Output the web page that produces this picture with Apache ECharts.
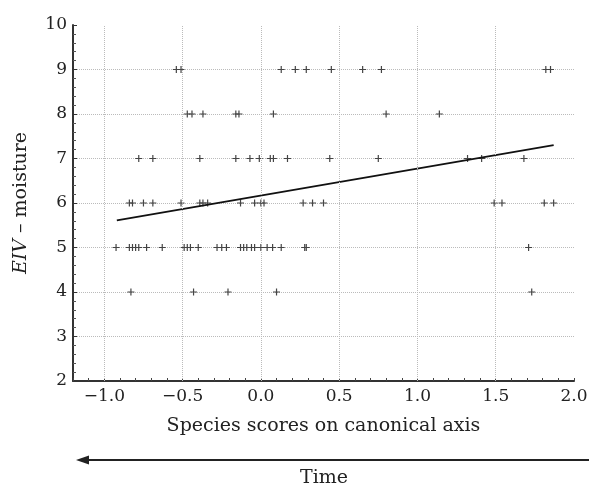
<!DOCTYPE html>
<html><head><meta charset="utf-8">
<script src="https://cdn.jsdelivr.net/npm/echarts@6/dist/echarts.min.js"></script>
<style>html,body{margin:0;padding:0;background:#fff}#c{width:592px;height:486px}</style>
</head><body><div id="c"></div>
<script>
// Species scores on canonical axis, grouped by EIV moisture value
const eivLevels = [9, 8, 7, 6, 5, 4];
const scores9 = [-0.54,-0.51,0.13,0.22,0.29,0.45,0.65,0.77,1.82,1.85];
const scores8 = [-0.47,-0.44,-0.37,-0.16,-0.14,0.08,0.80,1.14];
const scores7 = [-0.78,-0.69,-0.39,-0.16,-0.07,-0.01,0.06,0.08,0.17,0.44,0.75,1.32,1.41,1.68];
const scores6 = [-0.84,-0.82,-0.75,-0.69,-0.51,-0.39,-0.37,-0.34,-0.13,-0.04,0.00,0.02,0.27,0.33,0.40,1.49,1.54,1.81,1.87];
const scores5 = [-0.925,-0.84,-0.82,-0.80,-0.78,-0.73,-0.63,-0.49,-0.47,-0.45,-0.40,-0.28,-0.25,-0.22,-0.13,-0.11,-0.09,-0.06,-0.04,0.00,0.04,0.075,0.13,0.28,0.29,1.71];
const scores4 = [-0.83,-0.43,-0.21,0.10,1.73];
// fitted regression line endpoints
const fitX = [-0.92, 1.87];
const fitY = [5.61, 7.30];
// axis ticks
const xTicks = [-1.0, -0.5, 0.0, 0.5, 1.0, 1.5, 2.0];
const yTicks = [2, 3, 4, 5, 6, 7, 8, 9, 10];
const xGrid = [-1.0, -0.5, 0.0, 0.5, 1.0, 1.5];

const rows = [scores9, scores8, scores7, scores6, scores5, scores4];
const points = [];
rows.forEach((r, i) => r.forEach(x => points.push([x, eivLevels[i]])));
const fitData = fitX.map((x, i) => [x, fitY[i]]);

const plus = 'path://M-0.17,-1H0.17V-0.17H1V0.17H0.17V1H-0.17V0.17H-1V-0.17H-0.17Z';
const font = 'DejaVu Serif';
const isMajorX = v => xTicks.find(k => Math.abs(k - v) < 1e-6);

const chart = echarts.init(document.getElementById('c'), null, {renderer: 'canvas'});
chart.setOption({
  animation: false,
  backgroundColor: '#fff',
  grid: {left: 73, right: 18, top: 25, bottom: 105, containLabel: false},
  xAxis: {
    type: 'value', min: -1.2, max: 2.0, interval: 0.1,
    name: 'Species scores on canonical axis', nameLocation: 'middle', nameGap: 36,
    nameTextStyle: {fontFamily: font, fontSize: 19, color: '#222'},
    axisLine: {show: true, onZero: false, lineStyle: {color: '#333', width: 2}},
    axisTick: {show: true, inside: true, length: 3, lineStyle: {color: '#444'}},
    minorTick: {show: false},
    axisLabel: {fontFamily: font, fontSize: 17, color: '#222', margin: 7, interval: 0,
      showMinLabel: true, showMaxLabel: true, hideOverlap: false,
      formatter: v => { const t = isMajorX(v); return t === undefined ? '' : (t < -1e-9 ? '\u2212' + Math.abs(t).toFixed(1) : Math.abs(t).toFixed(1)); }},
    splitLine: {show: false}
  },
  yAxis: {
    type: 'value', min: 2, max: 10, interval: 1,
    name: '{i|EIV} \u2013 moisture', nameLocation: 'middle', nameGap: 42, nameRotate: 90,
    nameTextStyle: {fontFamily: font, fontSize: 19, color: '#222',
      rich: {i: {fontFamily: font, fontSize: 19, fontStyle: 'italic', color: '#222'}}},
    axisLine: {show: true, onZero: false, lineStyle: {color: '#333', width: 2}},
    axisTick: {show: true, inside: true, length: 4, lineStyle: {color: '#333'}},
    minorTick: {show: true, splitNumber: 5, length: 3, lineStyle: {color: '#555'}},
    axisLabel: {fontFamily: font, fontSize: 17, color: '#222', margin: 6,
      formatter: v => yTicks.includes(v) ? String(v) : ''},
    splitLine: {show: true, showMinLine: false, showMaxLine: false, lineStyle: {color: '#bbb', type: 'dotted', width: 1}}
  },
  series: [
    {type: 'scatter', data: points, symbol: plus, symbolSize: 7,
     itemStyle: {color: '#444', opacity: 1}, z: 3,
     markLine: {silent: true, symbol: 'none', label: {show: false}, animation: false,
       lineStyle: {color: '#bbb', type: 'dotted', width: 1},
       emphasis: {disabled: true},
       data: xGrid.map(v => ({xAxis: v}))}},
    {type: 'line', data: fitData, symbol: 'none', lineStyle: {color: '#111', width: 1.8}, z: 4}
  ],
  graphic: [
    {type: 'line', shape: {x1: 86, y1: 460, x2: 589, y2: 460}, style: {stroke: '#222', lineWidth: 2}},
    {type: 'polygon', shape: {points: [[76, 460], [89, 455.5], [89, 464.5]]}, style: {fill: '#222'}},
    {type: 'text', left: 300, top: 469, style: {text: 'Time', font: '19px "DejaVu Serif"', fill: '#222'}}
  ]
});
</script>
</body></html>
